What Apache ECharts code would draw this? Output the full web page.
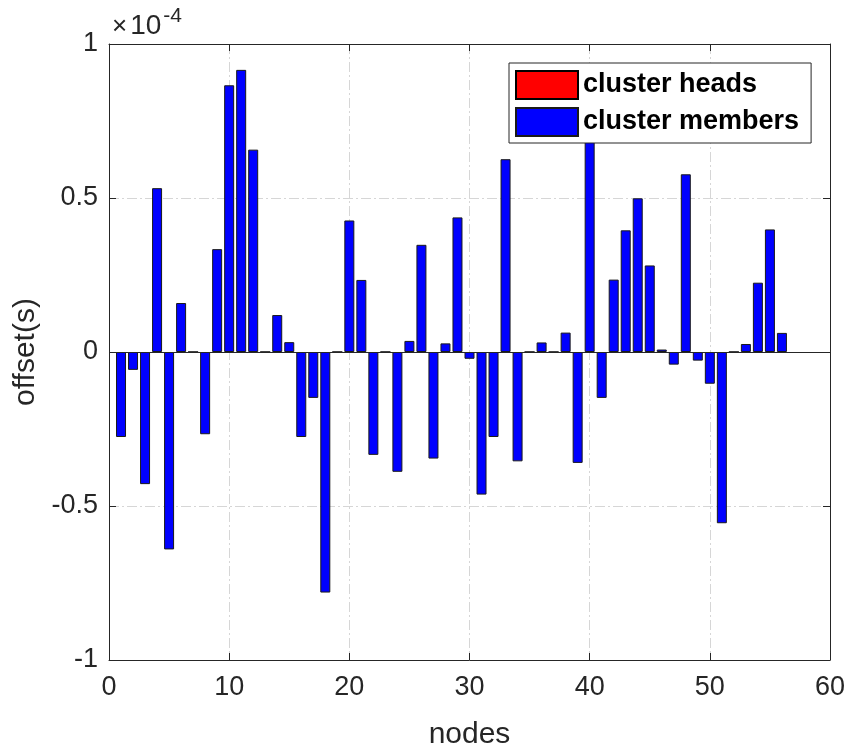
<!DOCTYPE html>
<html>
<head>
<meta charset="utf-8">
<script src="https://cdn.jsdelivr.net/npm/echarts@6/dist/echarts.min.js"></script>
<style>html,body{margin:0;padding:0;background:#fff}#c{width:848px;height:748px}</style>
</head>
<body>
<div id="c"></div>
<script>
// offsets in units of 1e-4 s
const memberNodes = [1,2,3,4,5,6,8,9,10,11,12,14,15,16,17,18,20,21,22,24,25,26,27,28,29,30,31,32,33,34,36,38,39,40,41,42,43,44,45,46,47,48,49,50,51,53,54,55,56];
const memberOffsets = [-0.276,-0.058,-0.429,0.532,-0.641,0.159,-0.267,0.334,0.866,0.916,0.657,0.120,0.032,-0.276,-0.149,-0.781,0.427,0.234,-0.334,-0.389,0.036,0.348,-0.346,0.028,0.437,-0.022,-0.463,-0.276,0.626,-0.355,0.031,0.063,-0.360,0.78,-0.149,0.235,0.395,0.499,0.281,0.008,-0.041,0.577,-0.028,-0.103,-0.556,0.026,0.225,0.398,0.062];
const headNodes = [7,13,19,23,35,37,52];
const headOffsets = [0,0,0,0,0,0,0];
const xTicks = [0,10,20,30,40,50,60];
const yTicks = [-1,-0.5,0,0.5,1];

const FONT = "'Liberation Sans', Arial, Helvetica, sans-serif";
const chart = echarts.init(document.getElementById('c'), null, {renderer:'canvas'});
const pair = (xs, ys) => xs.map((x,i)=>[x, ys[i]]);
const gridDash = {color:'#d6d6d6', width:1, type:[10,3,2,3]};
const frameColor = '#262626';
const frameLine = {show:true, onZero:false, lineStyle:{color:frameColor, width:1}};
const tick = {show:true, inside:true, length:7, lineStyle:{color:frameColor}};

chart.setOption({
  animation:false,
  backgroundColor:'#fff',
  grid:{left:109, right:18, top:44, bottom:88, show:false, containLabel:false, outerBoundsMode:'none'},
  xAxis:[{
    type:'value', min:xTicks[0], max:xTicks[xTicks.length-1], interval:10,
    name:'nodes', nameLocation:'middle', nameGap:60,
    nameTextStyle:{fontFamily:FONT, fontSize:30, color:'#262626'},
    axisLine:frameLine, axisTick:tick,
    axisLabel:{fontFamily:FONT, fontSize:27, color:'#262626', margin:14},
    splitLine:{show:true, lineStyle:gridDash}
  },{
    type:'value', position:'top', min:xTicks[0], max:xTicks[xTicks.length-1], interval:10,
    axisLine:frameLine, axisLabel:{show:false}, axisTick:tick,
    splitLine:{show:false}
  }],
  yAxis:[{
    type:'value', min:yTicks[0], max:yTicks[yTicks.length-1], interval:0.5,
    name:'offset(s)', nameLocation:'middle', nameGap:64,
    nameTextStyle:{fontFamily:FONT, fontSize:30, color:'#262626'},
    axisLine:frameLine, axisTick:tick,
    axisLabel:{fontFamily:FONT, fontSize:27, color:'#262626', margin:11, formatter:v=>String(v)},
    splitLine:{show:true, lineStyle:gridDash}
  },{
    type:'value', position:'right', min:yTicks[0], max:yTicks[yTicks.length-1], interval:0.5,
    axisLine:frameLine, axisLabel:{show:false}, axisTick:tick,
    splitLine:{show:false}
  }],
  legend:{
    orient:'vertical', left:509, top:63,
    itemWidth:62, itemHeight:28, itemGap:7,
    padding:[7,12,6,6],
    backgroundColor:'#fff', borderColor:frameColor, borderWidth:1, borderRadius:0,
    textStyle:{fontFamily:FONT, fontSize:27, fontWeight:'bold', color:'#000'},
    icon:'rect',
    data:['cluster heads','cluster members']
  },
  graphic:[{
    type:'text', left:112, top:6,
    style:{
      text:'{a|×}{b|10}{c|-4}',
      rich:{
        a:{fontFamily:FONT, fontSize:26, fill:'#262626', verticalAlign:'bottom', padding:[0,3,0,0]},
        b:{fontFamily:FONT, fontSize:28, fill:'#262626', verticalAlign:'bottom'},
        c:{fontFamily:FONT, fontSize:21, fill:'#262626', verticalAlign:'top', padding:[0,0,13,2]}
      }
    }
  }],
  series:[{
    name:'cluster heads', type:'bar', barWidth:10, barGap:'-100%',
    itemStyle:{color:'#ff0000', borderColor:'#000', borderWidth:1},
    data:pair(headNodes, headOffsets)
  },{
    name:'cluster members', type:'bar', barWidth:10, barGap:'-100%',
    itemStyle:{color:'#0000ff', borderColor:'#1a1a1a', borderWidth:1},
    data:pair(memberNodes, memberOffsets),
    markLine:{silent:true, symbol:'none', label:{show:false},
      lineStyle:{color:'#262626', width:1, type:'solid'},
      data:[{yAxis:0}]}
  }]
});
</script>
</body>
</html>
